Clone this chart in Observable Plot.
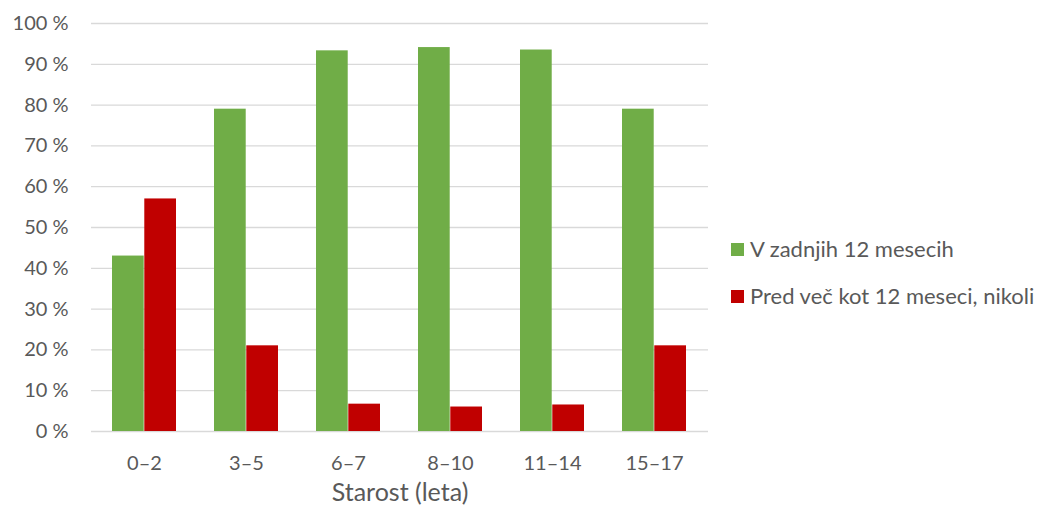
<!DOCTYPE html>
<html><head><meta charset="utf-8">
<script src="https://cdn.jsdelivr.net/npm/d3@7"></script>
<script src="https://cdn.jsdelivr.net/npm/@observablehq/plot@0.6"></script>
<style>
body{margin:0;background:#fff;font-family:Lato,"Open Sans",sans-serif;}
#wrap{position:relative;width:1038px;height:508px;overflow:hidden;}
#legend{position:absolute;left:731px;top:237px;font-size:22px;color:#595959;line-height:24px;}
#legend .row{display:flex;align-items:center;white-space:nowrap;height:24px;margin-bottom:23px;}
#legend .sw{width:13px;height:13px;margin-right:6px;flex:none;}
</style></head><body><div id="wrap"></div>
<script>
const categories = ["0–2", "3–5", "6–7", "8–10", "11–14", "15–17"];
const seriesNames = ["V zadnjih 12 mesecih", "Pred več kot 12 meseci, nikoli"];
const recentValues = [43, 79, 93.3, 94.1, 93.5, 79];
const olderValues = [57, 21, 6.7, 6.0, 6.5, 21];
const yTicks = [0, 10, 20, 30, 40, 50, 60, 70, 80, 90, 100];
const xTitle = "Starost (leta)";
const seriesColors = ["#70ad47", "#c00000"];

const rows = [];
categories.forEach((c, i) => {
  rows.push({cat: c, series: seriesNames[0], value: recentValues[i]});
  rows.push({cat: c, series: seriesNames[1], value: olderValues[i]});
});

const W = 1038, H = 508;
const mL = 91, mR = 330, mT = 23, mB = 77;
const pad = 0.372;
const step = (W - mL - mR) / categories.length;
const half = step * (1 - pad) / 2;
const textColor = "#595959";
const gridColor = "#d9d9d9";

const chart = Plot.plot({
  width: W, height: H,
  marginLeft: mL, marginRight: mR, marginTop: mT, marginBottom: mB,
  style: {fontFamily: "Lato, 'Open Sans', sans-serif", fontSize: "20px", color: textColor, background: "#fff"},
  x: {domain: categories, paddingInner: pad, paddingOuter: pad / 2},
  y: {domain: [0, 100]},
  color: {domain: seriesNames, range: seriesColors},
  marks: [
    Plot.ruleY(yTicks, {stroke: gridColor, strokeWidth: 1.3}),
    Plot.barY(rows.filter(d => d.series === seriesNames[0]), {x: "cat", y: "value", fill: "series", insetRight: half}),
    Plot.barY(rows.filter(d => d.series === seriesNames[1]), {x: "cat", y: "value", fill: "series", insetLeft: half}),
    Plot.axisY({ticks: yTicks, tickFormat: d => d + " %", tickSize: 0, tickPadding: 23, label: null, fill: textColor}),
    Plot.axisX({tickSize: 0, tickPadding: 24, label: null, fill: textColor}),
    Plot.text([xTitle], {frameAnchor: "bottom", dy: 61, lineAnchor: "middle", fill: textColor, fontSize: 25})
  ]
});

const wrap = document.getElementById("wrap");
wrap.appendChild(chart);

const legend = document.createElement("div");
legend.id = "legend";
seriesNames.forEach((name, i) => {
  const row = document.createElement("div");
  row.className = "row";
  const sw = document.createElement("span");
  sw.className = "sw";
  sw.style.background = seriesColors[i];
  const t = document.createElement("span");
  t.textContent = name;
  row.appendChild(sw); row.appendChild(t);
  legend.appendChild(row);
});
wrap.appendChild(legend);
</script>
</body></html>
